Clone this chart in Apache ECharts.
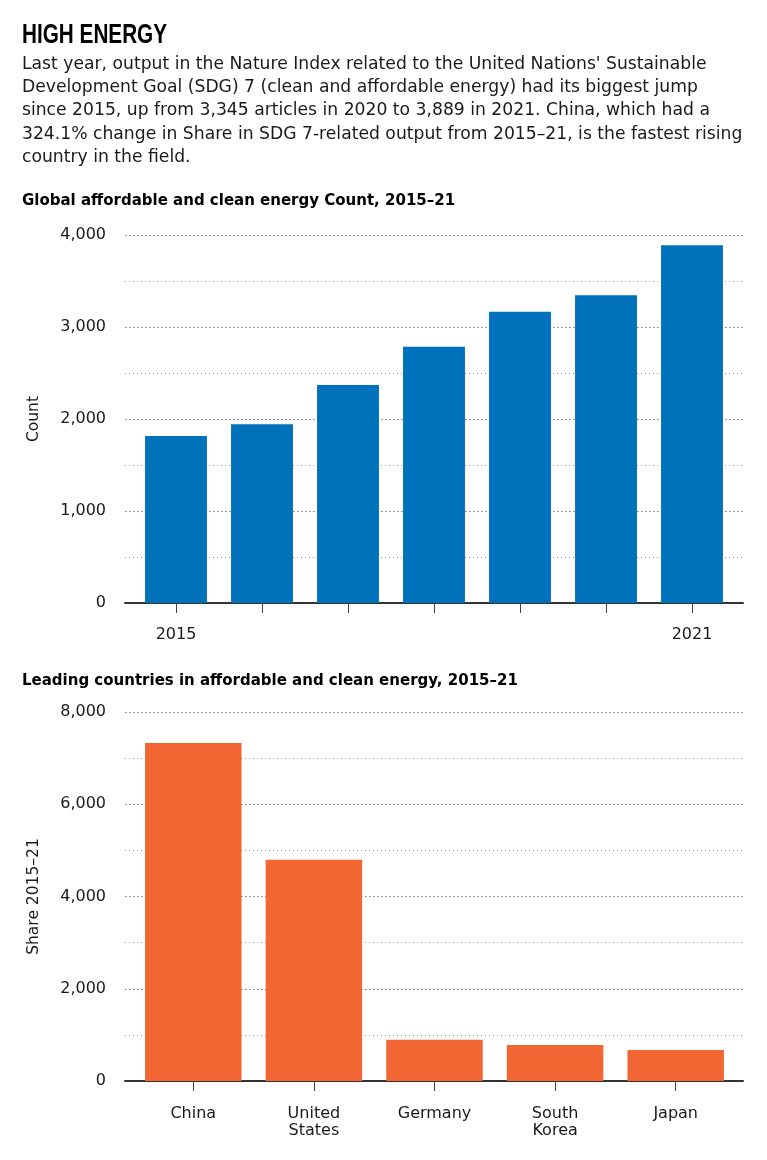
<!DOCTYPE html>
<html>
<head>
<meta charset="utf-8">
<script src="https://cdn.jsdelivr.net/npm/echarts@6/dist/echarts.min.js"></script>
<style>
html,body{margin:0;padding:0;background:#fff;}
#c{width:767px;height:1160px;}
</style>
</head>
<body>
<div id="c"></div>
<script>
// ---- data ----
const titleText = 'HIGH ENERGY';
const bodyLines = [
  "Last year, output in the Nature Index related to the United Nations' Sustainable",
  "Development Goal (SDG) 7 (clean and affordable energy) had its biggest jump",
  "since 2015, up from 3,345 articles in 2020 to 3,889 in 2021. China, which had a",
  "324.1% change in Share in SDG 7-related output from 2015\u201321, is the fastest rising",
  "country in the field."
];
const chart1Title = 'Global affordable and clean energy Count, 2015\u201321';
const chart2Title = 'Leading countries in affordable and clean energy, 2015\u201321';
const years = ['2015', '2016', '2017', '2018', '2019', '2020', '2021'];
const counts = [1815, 1942, 2370, 2786, 3166, 3345, 3889];
const yearLabelsShown = ['2015', '2021'];
const countries = ['China', 'United\nStates', 'Germany', 'South\nKorea', 'Japan'];
const shares = [7330, 4795, 895, 780, 670];
const countName = 'Count';
const shareName = 'Share 2015\u201321';

// ---- styles ----
const BLUE = '#0072bc';
const ORANGE = '#f26633';
const TXT = '#1a1a1a';
const AXF = 'DejaVu Sans';
const BODYF = 'DejaVu Sans';

const chart = echarts.init(document.getElementById('c'), null, {renderer: 'canvas'});

const graphics = [];
graphics.push({type: 'text', x: 22, y: 35, scaleX: 0.74, scaleY: 1,
  style: {text: titleText, fontSize: 28, fontWeight: 'bold', fontFamily: 'Liberation Sans', fill: '#000', verticalAlign: 'middle'}});
bodyLines.forEach((t, i) => {
  graphics.push({type: 'text', x: 22, y: 64.5 + i * 23.2, style: {text: t, fontSize: 17.2, fontFamily: BODYF, fill: TXT, verticalAlign: 'middle'}});
});
graphics.push({type: 'text', x: 22, y: 201, style: {text: chart1Title, fontSize: 15, fontWeight: 'bold', fontFamily: BODYF, fill: '#000', verticalAlign: 'middle'}});
graphics.push({type: 'text', x: 22, y: 681, style: {text: chart2Title, fontSize: 15, fontWeight: 'bold', fontFamily: BODYF, fill: '#000', verticalAlign: 'middle'}});

function yAxisWide(gi, max, interval, name) {
  return {
    type: 'value', gridIndex: gi, min: 0, max: max, interval: interval,
    name: name, nameLocation: 'middle', nameGap: 83, nameRotate: 90,
    nameTextStyle: {fontSize: 15.5, fontFamily: AXF, color: TXT},
    axisLine: {show: false}, axisTick: {show: false},
    axisLabel: {fontSize: 16, fontFamily: AXF, color: TXT, margin: 19,
      formatter: v => v.toLocaleString('en-US')},
    splitLine: {show: true, lineStyle: {color: '#777', type: [1.5, 2.5], width: 1.2}},
    minorTick: {show: false, splitNumber: 2},
    minorSplitLine: {show: true, lineStyle: {color: '#999', type: [1, 3], width: 1}}
  };
}
function yAxisHidden(gi, max) {
  return {type: 'value', gridIndex: gi, min: 0, max: max, show: false, splitLine: {show: false}};
}
function xAxisLine(gi) {
  return {type: 'value', gridIndex: gi, min: 0, max: 1, axisLine: {show: true, onZero: false, lineStyle: {color: '#333', width: 2}},
    axisTick: {show: false}, axisLabel: {show: false}, splitLine: {show: false}};
}

const option = {
  animation: false,
  backgroundColor: '#fff',
  graphic: graphics,
  grid: [
    {left: 125, right: 24, top: 235, height: 368},
    {left: 133, right: 32, top: 235, height: 368},
    {left: 125, right: 24, top: 712, height: 369},
    {left: 133, right: 31, top: 712, height: 369}
  ],
  xAxis: [
    xAxisLine(0),
    {type: 'category', gridIndex: 1, data: years,
      axisLine: {show: false},
      axisTick: {show: true, alignWithLabel: true, length: 10, interval: 0, lineStyle: {color: '#444', width: 1}},
      axisLabel: {fontSize: 16, fontFamily: AXF, color: TXT, margin: 24,
        interval: 0, formatter: v => yearLabelsShown.includes(v) ? v : ''}},
    xAxisLine(2),
    {type: 'category', gridIndex: 3, data: countries,
      axisLine: {show: false},
      axisTick: {show: true, alignWithLabel: true, length: 10, lineStyle: {color: '#444', width: 1}},
      axisLabel: {fontSize: 16, fontFamily: AXF, color: TXT, margin: 24, lineHeight: 17, interval: 0}}
  ],
  yAxis: [
    yAxisWide(0, 4000, 1000, countName),
    yAxisHidden(1, 4000),
    yAxisWide(2, 8000, 2000, shareName),
    yAxisHidden(3, 8000)
  ],
  series: [
    {type: 'bar', xAxisIndex: 1, yAxisIndex: 1, data: counts, barCategoryGap: '28%',
      itemStyle: {color: BLUE}, z: 3},
    {type: 'bar', xAxisIndex: 3, yAxisIndex: 3, data: shares, barCategoryGap: '20%',
      itemStyle: {color: ORANGE}, z: 3}
  ]
};
chart.setOption(option);
</script>
</body>
</html>
